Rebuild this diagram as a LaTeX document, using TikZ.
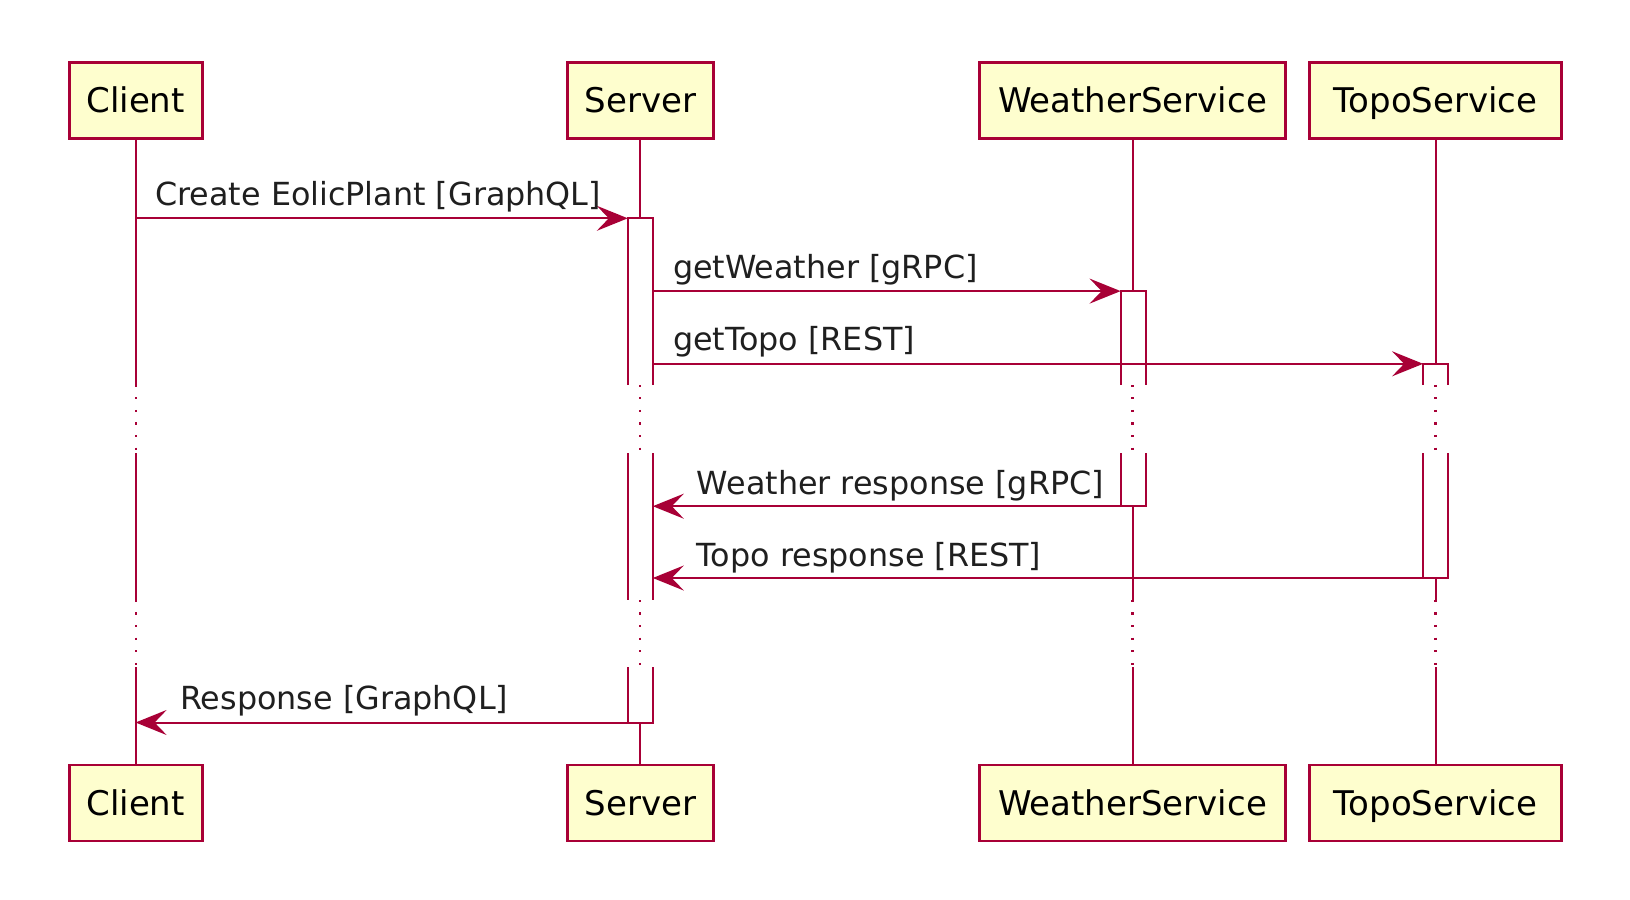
\documentclass[tikz,border=0pt]{standalone}
\usepackage{fontspec}
\setmainfont{DejaVu Sans}
\usetikzlibrary{arrows.meta}
\definecolor{umlred}{HTML}{A80036}
\definecolor{umlfill}{HTML}{FEFECE}

\begin{document}
\begin{tikzpicture}[x=0.5pt, y=-0.5pt,
        actor/.style={rectangle, draw=umlred, fill=umlfill, line width=1.4pt, minimum height=38pt, inner xsep=0pt, text height=14pt, text depth=2pt, font=\fontsize{17}{20}\selectfont},
        life/.style={draw=umlred, line width=1pt},
        gap/.style={draw=umlred, line width=1.1pt, dash pattern=on 1.1pt off 5.2pt},
        bar/.style={draw=umlred, line width=1pt, fill=white},
        msg/.style={draw=umlred, line width=1pt, -{Stealth[length=15.5pt, width=12.5pt, inset=6pt]}},
        lbl/.style={anchor=base west, inner sep=0pt, text=black!88, font=\fontsize{15.9}{18}\selectfont}]
        \useasboundingbox (0,0) rectangle (1630,900);

        % Participants
        \node[actor, minimum width=66.5pt]  at (135.6, 100.4)  (client)   {Client};
        \node[actor, minimum width=72.8pt]  at (640.3, 100.4)  (server)   {Server};
        \node[actor, minimum width=153.3pt] at (1132.5, 100.4) (weather)  {WeatherService};
        \node[actor, minimum width=125.8pt] at (1435.5, 100.4) (topo)     {TopoService};

        \node[actor, minimum width=66.5pt]  at (135.6, 803)    (clientb)  {Client};
        \node[actor, minimum width=72.8pt]  at (640.3, 803)    (serverb)  {Server};
        \node[actor, minimum width=153.3pt] at (1132.5, 803)   (weatherb) {WeatherService};
        \node[actor, minimum width=125.8pt] at (1435.5, 803)   (topob)    {TopoService};

        % Gaps
        \coordinate (ga1) at (0, 384.6);
        \coordinate (ga2) at (0, 453.2);
        \coordinate (gb1) at (0, 599.8);
        \coordinate (gb2) at (0, 667.4);

        % Lifelines
        \draw[life] (client.south) -- (client |- ga1)  (client |- ga2) -- (client |- gb1)  (client |- gb2) -- (clientb.north);
        \draw[life] (server.south) -- (server |- ga1)  (server |- ga2) -- (server |- gb1)  (server |- gb2) -- (serverb.north);
        \draw[life] (weather.south) -- (weather |- ga1)  (weather |- ga2) -- (weather |- gb1)  (weather |- gb2) -- (weatherb.north);
        \draw[life] (topo.south) -- (topo |- ga1)  (topo |- ga2) -- (topo |- gb1)  (topo |- gb2) -- (topob.north);

        \draw[gap] (client |- ga1) -- (client |- ga2)  (client |- gb1) -- (client |- gb2);
        \draw[gap] (server |- ga1) -- (server |- ga2)  (server |- gb1) -- (server |- gb2);
        \draw[gap] (weather |- ga1) -- (weather |- ga2)  (weather |- gb1) -- (weather |- gb2);
        \draw[gap] (topo |- ga1) -- (topo |- ga2)  (topo |- gb1) -- (topo |- gb2);

        % Activations
        \draw[bar] (627.8, 384.6) -- (627.8, 218.3) -- (652.8, 218.3) -- (652.8, 384.6);
        \fill[white] (627.8, 453.2) rectangle (652.8, 599.8);
        \draw[bar] (627.8, 453.2) -- (627.8, 599.8) (652.8, 453.2) -- (652.8, 599.8);
        \draw[bar] (627.8, 667.4) -- (627.8, 722.5) -- (652.8, 722.5) -- (652.8, 667.4);

        \draw[bar] (1120.6, 384.6) -- (1120.6, 291.1) -- (1145.5, 291.1) -- (1145.5, 384.6);
        \draw[bar] (1120.6, 453.2) -- (1120.6, 506.2) -- (1145.5, 506.2) -- (1145.5, 453.2);

        \draw[bar] (1423.1, 384.6) -- (1423.1, 363.8) -- (1448, 363.8) -- (1448, 384.6);
        \draw[bar] (1423.1, 453.2) -- (1423.1, 578) -- (1448, 578) -- (1448, 453.2);

        % Message ends
        \coordinate (m1a) at (135.6, 218.3);
        \coordinate (m1b) at (627.8, 218.3);
        \coordinate (m2a) at (652.8, 291.1);
        \coordinate (m2b) at (1120.6, 291.1);
        \coordinate (m3a) at (652.8, 363.8);
        \coordinate (m3b) at (1423.1, 363.8);
        \coordinate (m4a) at (1120.6, 506.2);
        \coordinate (m4b) at (652.8, 506.2);
        \coordinate (m5a) at (1423.1, 578);
        \coordinate (m5b) at (652.8, 578);
        \coordinate (m6a) at (627.8, 722.5);
        \coordinate (m6b) at (135.6, 722.5);

        \draw[msg] (m1a) -- (m1b);
        \draw[msg] (m2a) -- (m2b);
        \draw[msg] (m3a) -- (m3b);
        \draw[msg] (m4a) -- (m4b);
        \draw[msg] (m5a) -- (m5b);
        \draw[msg] (m6a) -- (m6b);

        % Labels
        \node[lbl] at (154.9, 205)   (l1) {Create EolicPlant [GraphQL]};
        \node[lbl] at (672.6, 278)   (l2) {getWeather [gRPC]};
        \node[lbl] at (672.6, 350.8) (l3) {getTopo [REST]};
        \node[lbl] at (696.5, 494)   (l4) {Weather response [gRPC]};
        \node[lbl] at (696.5, 566)   (l5) {Topo response [REST]};
        \node[lbl] at (179.8, 709.5) (l6) {Response [GraphQL]};
    \end{tikzpicture}
\end{document}
